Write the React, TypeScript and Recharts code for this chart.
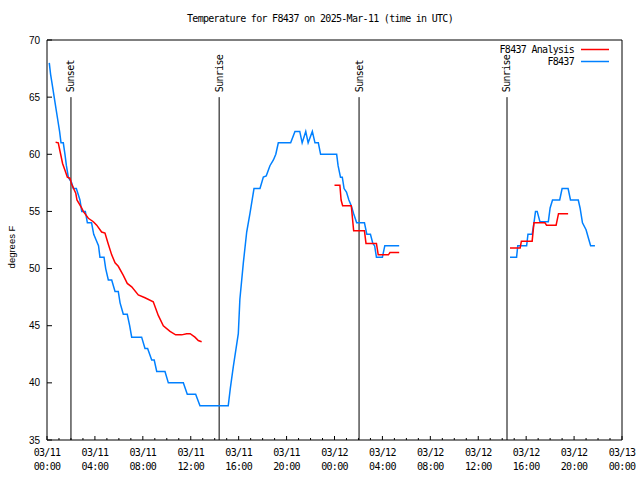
import React from "react";
import {
  LineChart,
  Line,
  XAxis,
  YAxis,
  ReferenceLine,
} from "recharts";

// hours since 03/11 00:00 UTC, temperature in F (null = gap)
const obsHour = [
  0.19, 0.3, 0.45, 0.6, 0.75, 0.9, 1.05, 1.17, 1.36, 1.5, 1.62, 1.78, 2.06, 2.2,
  2.45, 2.6, 2.75, 2.9, 3.2, 3.37, 3.72, 3.9, 4.1, 4.3, 4.42, 4.76, 4.9, 5.12,
  5.4, 5.68, 5.95, 6.1, 6.37, 6.7, 6.9, 7.07, 7.9, 8.18, 8.4, 8.74, 8.95, 9.16,
  9.85, 10.13, 11.38, 11.71, 12.41, 12.77, 15.13, 15.3, 15.55, 15.97, 16.1,
  16.39, 16.67, 16.94, 17.28, 17.78, 18.06, 18.3, 18.61, 18.9, 19.1, 19.31,
  20.34, 20.7, 21.1, 21.3, 21.6, 21.8, 22.15, 22.37, 22.65, 22.84, 24.18, 24.3,
  24.5, 24.65, 24.8, 25.0, 25.2, 25.4, 25.6, 25.85, 26.5, 26.7, 27.0, 27.2,
  27.35, 27.5, 28.0, 28.2, 29.4, 34, 38.65, 39.2, 39.3, 40.04, 40.15, 40.5,
  40.65, 40.78, 40.92, 41.15, 41.85, 42.0, 42.2, 42.8, 43.0, 43.5, 43.7, 44.35,
  44.5, 44.7, 45.0, 45.2, 45.38, 45.74,
];
const obsTemp = [
  68, 67, 66, 65, 64, 63, 62, 61, 61, 60, 59, 58, 57.5, 57, 57, 56.5, 56, 55,
  55, 54, 54, 53, 52.5, 52, 51, 51, 50, 49, 49, 48, 48, 47, 46, 46, 45, 44, 44,
  43, 43, 42, 42, 41, 41, 40, 40, 39, 39, 38, 38, 39.5, 41.4, 44.3, 47.3, 50.5,
  53.2, 54.8, 57, 57, 58, 58.1, 59, 59.5, 60, 61, 61, 62, 62, 61, 62, 61, 62,
  61, 61, 60, 60, 59, 58, 58, 57, 56.7, 56, 55.5, 54.8, 54, 54, 53, 53, 52.2,
  52, 51, 51, 52, 52, null, 51, 51, 52, 52, 53, 53, 54, 55, 55, 54.1, 54.1,
  55.3, 56, 56, 57, 57, 56, 56, 55.3, 54, 53.4, 52.65, 52, 52,
];

const anaHour = [
  0.72, 0.94, 1.1, 1.3, 1.5, 1.7, 1.92, 2.05, 2.4, 2.5, 2.9, 3.03, 3.45, 3.87,
  4.15, 4.56, 4.84, 5.1, 5.4, 5.68, 5.95, 6.37, 6.7, 7.07, 7.62, 8.18, 8.87,
  9.29, 9.71, 10.27, 10.74, 11.24, 11.66, 11.95, 12.35, 12.63, 12.91, 20, 24.0,
  24.45, 24.55, 24.68, 25.4, 25.6, 26.5, 26.63, 27.5, 27.65, 28.5, 28.63, 29.4,
  34, 38.65, 39.5, 39.6, 40.5, 40.65, 41.57, 41.7, 42.5, 42.7, 43.5,
];
const anaTemp = [
  61.05, 61, 60.2, 59.2, 58.6, 58, 57.9, 57.4, 56.6, 56, 55.3, 55, 54.4, 54.1,
  53.8, 53.2, 53.1, 52.2, 51.2, 50.5, 50.2, 49.4, 48.7, 48.4, 47.7, 47.45, 47.1,
  45.9, 45.0, 44.5, 44.2, 44.2, 44.3, 44.3, 44.0, 43.7, 43.6, null, 57.3, 57.3,
  56.0, 55.5, 55.5, 53.3, 53.3, 52.2, 52.2, 51.2, 51.2, 51.4, 51.4, null, 51.8,
  51.8, 52.4, 52.4, 54.0, 54.0, 53.8, 53.8, 54.8, 54.8,
];

const sunHour = [2.0, 14.37, 26.05, 38.4];
const sunLabel = ["Sunset", "Sunrise", "Sunset", "Sunrise"];

const xMajor = [0, 4, 8, 12, 16, 20, 24, 28, 32, 36, 40, 44, 48];
const xDates = ["03/11", "03/11", "03/11", "03/11", "03/11", "03/11", "03/12", "03/12", "03/12", "03/12", "03/12", "03/12", "03/13"];
const xTimes = ["00:00", "04:00", "08:00", "12:00", "16:00", "20:00", "00:00", "04:00", "08:00", "12:00", "16:00", "20:00", "00:00"];
const yTicks = [35, 40, 45, 50, 55, 60, 65, 70];

const seriesNames = ["F8437 Analysis", "F8437"];
const seriesColors = ["#ff0000", "#0080ff"];

const xMinor = Array.from({ length: 49 }, (_, i) => i);

const obsData = obsHour.map((h, i) => ({ h, t: obsTemp[i] }));
const anaData = anaHour.map((h, i) => ({ h, t: anaTemp[i] }));

const mono = {
  fontFamily: "'DejaVu Sans Mono', monospace",
  fontSize: 10,
  letterSpacing: -0.7,
};

const BottomTick = ({ x, y, payload }: any) => {
  const idx = xMajor.indexOf(payload.value);
  const major = idx >= 0;
  return (
    <g>
      <line x1={x} x2={x} y1={y} y2={y - (major ? 4 : 2)} stroke="#000" />
      {major && (
        <text x={x} y={y} textAnchor="middle" fill="#000" style={mono}>
          <tspan x={x} dy={16}>{xDates[idx]}</tspan>
          <tspan x={x} dy={14}>{xTimes[idx]}</tspan>
        </text>
      )}
    </g>
  );
};

const TopTick = ({ x, y, payload }: any) => {
  const major = xMajor.indexOf(payload.value) >= 0;
  return <line x1={x} x2={x} y1={y} y2={y + (major ? 4 : 2)} stroke="#000" />;
};

const LeftTick = ({ x, y, payload }: any) => (
  <g>
    <line x1={x} x2={x + 5} y1={y} y2={y} stroke="#000" />
    <text
      x={x - 7}
      y={y + 3.5}
      textAnchor="end"
      fill="#000"
      style={{ fontFamily: "'Liberation Sans', Arial, sans-serif", fontSize: 10 }}
    >
      {payload.value}
    </text>
  </g>
);

const RightTick = ({ x, y }: any) => (
  <line x1={x} x2={x - 5} y1={y} y2={y} stroke="#000" />
);

// key in the top right corner, as gnuplot draws it
const KeyBox = () => (
  <svg
    width={200}
    height={30}
    style={{ position: "absolute", left: 420, top: 43 }}
  >
    {seriesNames.map((name, i) => (
      <g key={name}>
        <text
          x={154}
          y={10 + i * 12}
          textAnchor="end"
          fill="#000"
          style={mono}
        >
          {name}
        </text>
        <line
          x1={161}
          x2={189}
          y1={6.5 + i * 12}
          y2={6.5 + i * 12}
          stroke={seriesColors[i]}
          strokeWidth={1.5}
        />
      </g>
    ))}
  </svg>
);

export default function App() {
  return (
    <div style={{ position: "absolute", left: 0, top: 0, width: 640, height: 480, background: "#fff" }}>
      <div
        style={{
          ...mono,
          position: "absolute",
          top: 13,
          left: 0,
          width: 640,
          textAlign: "center",
        }}
      >
        Temperature for F8437 on 2025-Mar-11 (time in UTC)
      </div>
      <LineChart
        width={640}
        height={480}
        margin={{ top: 0, right: 0, bottom: 0, left: 0 }}
      >
        <XAxis
          dataKey="h"
          type="number"
          domain={[0, 48]}
          ticks={xMinor}
          interval={0}
          height={40}
          tickSize={0}
          tickMargin={0}
          tickLine={false}
          axisLine={{ stroke: "#000" }}
          tick={<BottomTick />}
        />
        <XAxis
          xAxisId="top"
          orientation="top"
          dataKey="h"
          type="number"
          domain={[0, 48]}
          ticks={xMinor}
          interval={0}
          height={40}
          tickSize={0}
          tickMargin={0}
          tickLine={false}
          axisLine={{ stroke: "#000" }}
          tick={<TopTick />}
        />
        <YAxis
          type="number"
          domain={[35, 70]}
          ticks={yTicks}
          interval={0}
          width={47}
          tickSize={0}
          tickMargin={0}
          tickLine={false}
          axisLine={{ stroke: "#000" }}
          tick={<LeftTick />}
          label={{
            content: (props: any) => {
              const vb = props.viewBox || { x: 0, y: 40, width: 47, height: 400 };
              const cx = 11;
              const cy = vb.y + vb.height / 2 + 7;
              return (
                <text
                  x={cx}
                  y={cy}
                  transform={`rotate(-90 ${cx} ${cy})`}
                  textAnchor="middle"
                  dominantBaseline="central"
                  fill="#000"
                  style={{ fontFamily: "'Liberation Sans', Arial, sans-serif", fontSize: 9.5 }}
                >
                  degrees F
                </text>
              );
            },
          }}
        />
        <YAxis
          yAxisId="right"
          orientation="right"
          type="number"
          domain={[35, 70]}
          ticks={yTicks}
          interval={0}
          width={18}
          tickSize={0}
          tickMargin={0}
          tickLine={false}
          axisLine={{ stroke: "#000" }}
          tick={<RightTick />}
        />

        {sunHour.map((h, i) => (
          <ReferenceLine
            key={i}
            segment={[
              { x: h, y: 35 },
              { x: h, y: 65 },
            ]}
            stroke="#000"
            strokeWidth={1}
            label={{
              content: (props: any) => {
                const vb = props.viewBox || {};
                const lx = vb.x ?? vb.x1 ?? 0;
                const ly = (vb.y ?? vb.y1 ?? 97) - 5;
                return (
                  <text
                    x={lx}
                    y={ly}
                    transform={`rotate(-90 ${lx} ${ly})`}
                    textAnchor="start"
                    dominantBaseline="central"
                    fill="#000"
                    style={mono}
                  >
                    {sunLabel[i]}
                  </text>
                );
              },
            }}
          />
        ))}

        <Line
          data={obsData}
          dataKey="t"
          name={seriesNames[1]}
          stroke={seriesColors[1]}
          strokeWidth={1.5}
          dot={false}
          activeDot={false}
          connectNulls={false}
          isAnimationActive={false}
        />
        <Line
          data={anaData}
          dataKey="t"
          name={seriesNames[0]}
          stroke={seriesColors[0]}
          strokeWidth={1.5}
          dot={false}
          activeDot={false}
          connectNulls={false}
          isAnimationActive={false}
        />
      </LineChart>
      <KeyBox />
    </div>
  );
}
